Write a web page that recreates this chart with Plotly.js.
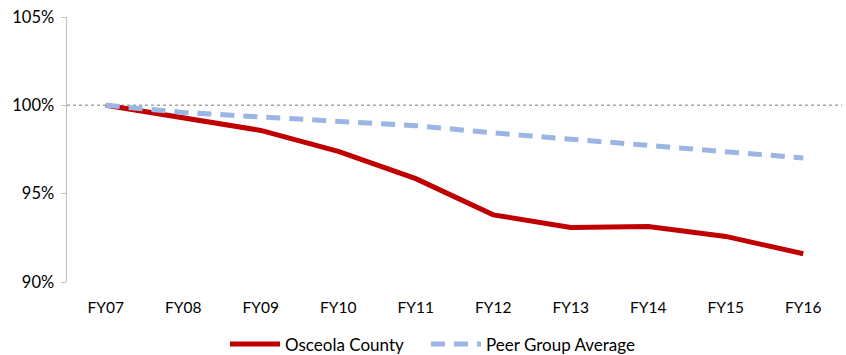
<!DOCTYPE html>
<html><head><meta charset="utf-8">
<script src="https://cdn.plot.ly/plotly-3.0.1.min.js"></script>
<style>html,body{margin:0;padding:0;background:#fff}#chart{width:846px;height:355px}</style>
</head><body><div id="chart"></div>
<script>
const categories = ["FY07","FY08","FY09","FY10","FY11","FY12","FY13","FY14","FY15","FY16"];
const osceola = [1.000, 0.9929, 0.9858, 0.9739, 0.9585, 0.9380, 0.9309, 0.9314, 0.9258, 0.9160];
const peer = [1.000, 0.9960, 0.9934, 0.9906, 0.9885, 0.9844, 0.9810, 0.9773, 0.9736, 0.9702];
const yTickVals = [0.90, 0.95, 1.00, 1.05];
const yTickText = ["90%", "95%", "100%", "105%"];

const fam = "Lato, 'Open Sans', sans-serif";
const xFont = {family: fam, size: 15.5, color: "#000"};
const yFont = {family: fam, size: 16.5, color: "#000"};
const legFont = {family: fam, size: 17, color: "#000"};
const traces = [
  {x: categories, y: osceola, name: "Osceola County", type: "scatter", mode: "lines",
   line: {color: "#C00000", width: 5}, legend: "legend"},
  {x: categories, y: peer, name: "Peer Group Average", type: "scatter", mode: "lines",
   line: {color: "#9BB5E4", width: 5, dash: "14px,9px"}, legend: "legend2"}
];
const legBase = {orientation: "h", xanchor: "left", xref: "container",
                 yref: "container", y: 0.03, yanchor: "middle",
                 font: legFont, itemwidth: 50};
const layout = {
  width: 846, height: 355,
  margin: {l: 67, r: 4, t: 17, b: 73},
  paper_bgcolor: "#fff", plot_bgcolor: "#fff",
  font: xFont,
  showlegend: true,
  legend: Object.assign({}, legBase, {x: 225 / 846}),
  legend2: Object.assign({}, legBase, {x: 426 / 846}),
  xaxis: {type: "category", range: [-0.5, 9.5], showgrid: false, zeroline: false,
          showline: false, ticks: "", tickfont: xFont, ticklabelstandoff: 14, fixedrange: true},
  yaxis: {range: [0.90, 1.05], tickvals: yTickVals, ticktext: yTickText, showgrid: false,
          zeroline: false, showline: true, linecolor: "#BFBFBF", linewidth: 1.5,
          ticks: "outside", ticklen: 5, tickcolor: "#BFBFBF", tickfont: yFont,
          ticklabelstandoff: 3, fixedrange: true},
  shapes: [{type: "line", xref: "paper", x0: 0, x1: 1, yref: "y", y0: 1.0, y1: 1.0,
            line: {color: "#A6A6A6", width: 1.5, dash: "dot"}, layer: "below"}]
};
Plotly.newPlot("chart", traces, layout, {displayModeBar: false, staticPlot: true});
</script></body></html>
